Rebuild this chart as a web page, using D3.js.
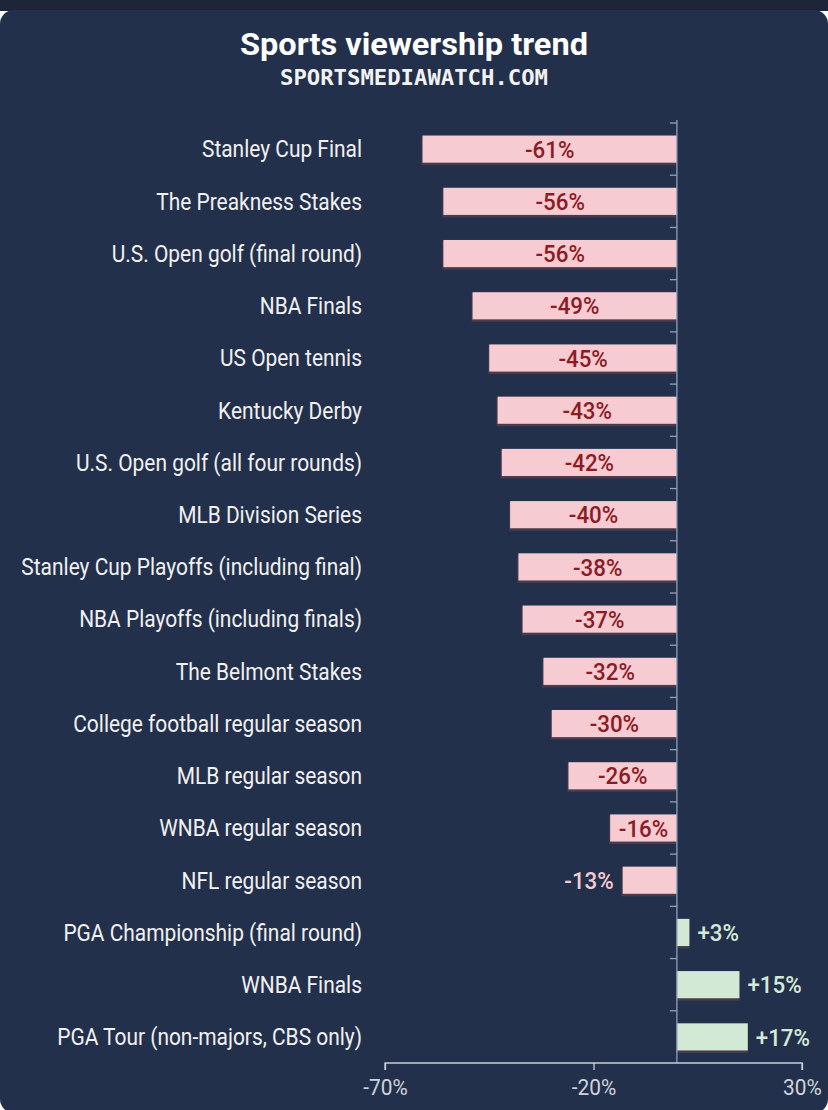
<!DOCTYPE html>
<html><head><meta charset="utf-8">
<script src="https://cdn.jsdelivr.net/npm/d3@7"></script>
<style>html,body{margin:0;padding:0;background:#fff;}svg{display:block;}</style>
</head><body>
<svg id="c" width="828" height="1110"></svg>
<script>
const categories = [
  "Stanley Cup Final","The Preakness Stakes","U.S. Open golf (final round)","NBA Finals",
  "US Open tennis","Kentucky Derby","U.S. Open golf (all four rounds)","MLB Division Series",
  "Stanley Cup Playoffs (including final)","NBA Playoffs (including finals)","The Belmont Stakes",
  "College football regular season","MLB regular season","WNBA regular season","NFL regular season",
  "PGA Championship (final round)","WNBA Finals","PGA Tour (non-majors, CBS only)"
];
const values = [-61,-56,-56,-49,-45,-43,-42,-40,-38,-37,-32,-30,-26,-16,-13,3,15,17];
const tickValues = [-70,-20,30];
const title = "Sports viewership trend";
const subtitle = "SPORTSMEDIAWATCH.COM";

const svg = d3.select("#c");
const W = 828, H = 1110;
// background
svg.append("rect").attr("x",0).attr("y",0).attr("width",W).attr("height",H).attr("fill","#ffffff");
svg.append("rect").attr("x",0).attr("y",0).attr("width",W).attr("height",11).attr("fill","#1d2639");
svg.append("rect").attr("x",0).attr("y",10).attr("width",W).attr("height",1103).attr("rx",14).attr("fill","#23304b");

svg.append("text").attr("x",414).attr("y",55).attr("text-anchor","middle")
  .attr("font-family","Roboto").attr("font-weight",700).attr("font-size",32)
  .attr("fill","#ffffff").attr("textLength",348).attr("lengthAdjust","spacingAndGlyphs").text(title);
svg.append("text").attr("x",414).attr("y",85).attr("text-anchor","middle")
  .attr("font-family","DejaVu Sans Mono").attr("font-weight",700).attr("font-size",22)
  .attr("fill","#f2f2f2").attr("textLength",268).attr("lengthAdjust","spacingAndGlyphs").text(subtitle);

const x = d3.scaleLinear().domain([-70,30]).range([385,802]);
const y = d3.scaleBand().domain(categories).range([123,1063]).paddingInner(0.48).paddingOuter(0.24);

const FONT = "Roboto";
const SX = 0.91;
const VSX = 0.93;

// bars
const g = svg.append("g");
const data = categories.map((c,i)=>({c, v: values[i]}));
g.selectAll("rect.shadow").data(data).join("rect").attr("class","shadow")
  .attr("x", d=>Math.min(x(d.v),x(0))-1).attr("y", d=>y(d.c)+1)
  .attr("width", d=>Math.abs(x(d.v)-x(0))+1).attr("height", y.bandwidth()+1.5)
  .attr("fill", "#4a3b4c");
g.selectAll("rect.bar").data(data).join("rect").attr("class","bar")
  .attr("x", d=>Math.min(x(d.v),x(0))).attr("y", d=>y(d.c))
  .attr("width", d=>Math.abs(x(d.v)-x(0))).attr("height", y.bandwidth())
  .attr("fill", d=>d.v<0?"#f7cbd2":"#d2ead5");

// zero line with category ticks
const zl = svg.append("g").attr("transform",`translate(${x(0)},0)`);
zl.append("line").attr("x1",0).attr("x2",0).attr("y1",120).attr("y2",1063).attr("stroke","#8ea2bd").attr("stroke-width",1.3);
const boundaries = categories.map(c=>y(c) - y.step()*y.paddingInner()/2);
zl.selectAll("line.t").data(boundaries).join("line").attr("class","t")
  .attr("x1",-7).attr("x2",0).attr("y1",d=>d).attr("y2",d=>d)
  .attr("stroke","#8ea2bd").attr("stroke-width",1.3);

// category labels
svg.selectAll("g.cl").data(data).join("g").attr("class","cl")
  .attr("transform", d=>`translate(362,${y(d.c)+y.bandwidth()/2}) scale(${SX},1)`)
  .append("text").attr("text-anchor","end").attr("dy","0.36em")
  .attr("font-family",FONT).attr("font-size",23).attr("fill","#f1f1f1").text(d=>d.c);

// value labels
function fmt(v){ return (v>0?"+":"")+v+"%"; }
svg.selectAll("g.vl").data(data).join("g").attr("class","vl")
  .attr("transform", d=>{
    const w = Math.abs(x(d.v)-x(0));
    let px;
    if (d.v>0){ px = x(d.v)+8; }
    else if (w>60){ px = (x(d.v)+x(0))/2; }
    else { px = x(d.v)-9; }
    return `translate(${px},${y(d.c)+y.bandwidth()/2}) scale(${VSX},1)`;
  })
  .append("text")
  .attr("text-anchor", d=>{ const w=Math.abs(x(d.v)-x(0)); return d.v>0?"start":(w>60?"middle":"end"); })
  .attr("dy","0.36em").attr("font-family",FONT).attr("font-weight",500).attr("font-size",24)
  .attr("fill", d=>{ const w=Math.abs(x(d.v)-x(0)); return d.v>0?"#d3ebd6":(w>60?"#8b1b24":"#f5cbd1"); })
  .text(d=>fmt(d.v));

// x axis
const xa = d3.axisBottom(x).tickValues(tickValues).tickSize(7).tickFormat(d=>d+"%");
const xg = svg.append("g").attr("transform","translate(0,1063)").call(xa);
xg.select(".domain").attr("stroke","#c9ced8").attr("stroke-width",1.3).attr("d","M385,7V0H802V7");
xg.selectAll(".tick line").attr("stroke","#c9ced8").attr("stroke-width",1.3);
xg.selectAll(".tick text").attr("fill","#cfd3dc").attr("font-family",FONT).attr("font-size",22).attr("dy","1.0em")
  .attr("transform",`scale(0.95,1)`).attr("x",0);
</script>
</body></html>
